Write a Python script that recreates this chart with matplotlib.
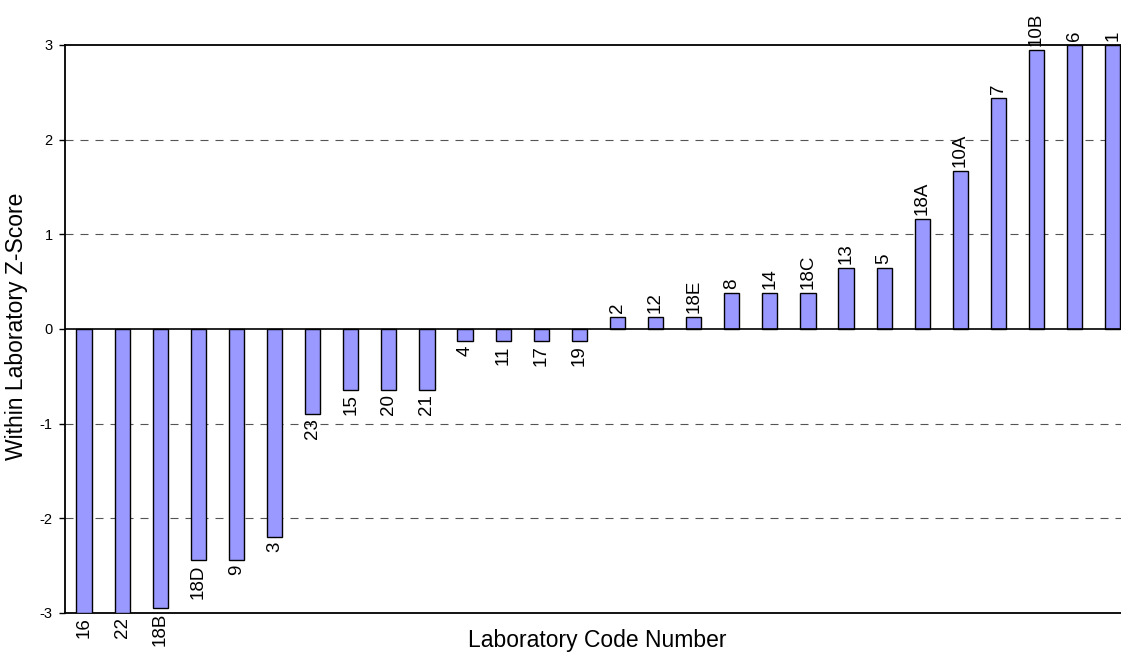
import matplotlib
matplotlib.use("Agg")
import matplotlib.pyplot as plt

plt.rcParams['font.family'] = ['Liberation Sans', 'DejaVu Sans']

labs = ["16", "22", "18B", "18D", "9", "3", "23", "15", "20", "21", "4", "11", "17", "19",
        "2", "12", "18E", "8", "14", "18C", "13", "5", "18A", "10A", "7", "10B", "6", "1"]
zscores = [-3.0, -3.0, -2.95, -2.44, -2.44, -2.2, -0.9, -0.64, -0.64, -0.64, -0.13, -0.13, -0.13, -0.13,
           0.13, 0.13, 0.13, 0.38, 0.38, 0.38, 0.64, 0.64, 1.16, 1.67, 2.44, 2.95, 3.0, 3.0]
yticks = [-3, -2, -1, 0, 1, 2, 3]

W, H = 1121, 659
fig = plt.figure(figsize=(W / 100, H / 100), dpi=100)
left = 65 / W
bottom = (H - 613) / H
top = (H - 45) / H
width = 28 * 38.1 / W
ax = fig.add_axes([left, bottom, width, top - bottom])

x = list(range(len(labs)))
ax.bar(x, zscores, width=0.4, color='#9999FF', edgecolor='black', linewidth=1.0, zorder=3)

for xi, v, l in zip(x, zscores, labs):
    if v >= 0:
        ax.annotate(l, (xi, v), xytext=(0, 3), textcoords='offset points', rotation=90,
                    ha='center', va='bottom', fontsize=13.5, zorder=4)
    else:
        ax.annotate(l, (xi, v), xytext=(0, -3), textcoords='offset points', rotation=90,
                    ha='center', va='top', fontsize=13.5, zorder=4)

ax.set_xlim(-0.5, len(labs) - 0.5)
ax.set_ylim(-3, 3)
ax.set_yticks(yticks)
ax.set_yticklabels([str(t) for t in yticks], fontsize=10.5)
ax.set_xticks([])
for yv in [-2, -1, 1, 2]:
    ax.axhline(yv, color='#555555', linestyle=(0, (7.2, 6.3)), linewidth=0.8, zorder=1)
ax.axhline(0, color='black', linewidth=1.2, zorder=4)

ax.spines['right'].set_visible(False)
for s in ['left', 'top', 'bottom']:
    ax.spines[s].set_linewidth(1.3)
    ax.spines[s].set_color('black')
ax.tick_params(axis='y', direction='out', length=4, width=1, pad=5)

fig.text(17 / W, (H - 326) / H, 'Within Laboratory Z-Score', rotation=90, ha='center', va='center', fontsize=16.5)
fig.text(597 / W, (H - 641) / H, 'Laboratory Code Number', ha='center', va='center', fontsize=16.5)

fig.savefig('out.png', dpi=100)
